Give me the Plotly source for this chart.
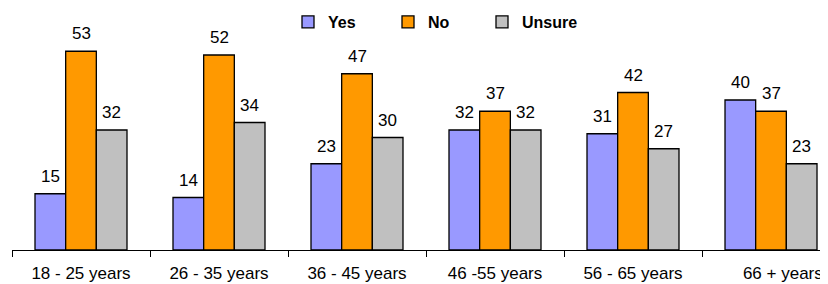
import plotly.graph_objects as go

categories = ["18 - 25 years", "26 - 35 years", "36 - 45 years", "46 -55 years", "56 - 65 years",
              "\u00a0\u00a0\u00a0\u00a0\u00a066 + years"]
yes_vals = [15, 14, 23, 32, 31, 40]
no_vals = [53, 52, 47, 37, 42, 37]
unsure_vals = [32, 34, 30, 32, 27, 23]

series = [
    ("Yes", yes_vals, "#9999FF", "legend"),
    ("No", no_vals, "#FF9900", "legend2"),
    ("Unsure", unsure_vals, "#C0C0C0", "legend3"),
]

FONT = "Liberation Sans, Arial, sans-serif"
BARGAP = 1 / 3

fig = go.Figure()
for name, vals, color, lg in series:
    fig.add_trace(go.Bar(
        name=name, x=categories, y=vals,
        marker=dict(color=color, line=dict(color="black", width=1.3)),
        legend=lg,
    ))

w = (1 - BARGAP) / len(series)
annotations = []
for k, (name, vals, color, lg) in enumerate(series):
    for i, v in enumerate(vals):
        annotations.append(dict(
            x=i + (k - 1) * w, y=v, xref="x", yref="y",
            text=str(v), showarrow=False, yanchor="bottom", yshift=6,
            font=dict(family=FONT, size=17, color="black"),
        ))

legend_common = dict(orientation="h", yanchor="middle", xanchor="left",
                     yref="container", y=1 - 14 / 276, bgcolor="rgba(0,0,0,0)",
                     font=dict(family=FONT, size=16, color="black", weight="bold"))

fig.update_layout(
    width=820, height=276,
    margin=dict(l=4, r=0, t=17, b=34, autoexpand=False),
    paper_bgcolor="white", plot_bgcolor="white",
    barmode="group", bargap=BARGAP, bargroupgap=0,
    font=dict(family=FONT, color="black"),
    annotations=annotations,
    legend=dict(x=276 / 816, **legend_common),
    legend2=dict(x=376 / 816, **legend_common),
    legend3=dict(x=470 / 816, **legend_common),
    xaxis=dict(
        type="category", range=[-0.5, 5.413],
        showline=True, linecolor="black", linewidth=1,
        ticks="outside", ticklen=6, tickcolor="black", tickson="boundaries",
        tickfont=dict(family=FONT, size=17, color="black"),
        ticklabelstandoff=8, automargin=False,
        showgrid=False, zeroline=False,
    ),
    yaxis=dict(range=[0, 60], visible=False, showgrid=False, zeroline=False),
    showlegend=True,
)

fig.write_html("out.html")
